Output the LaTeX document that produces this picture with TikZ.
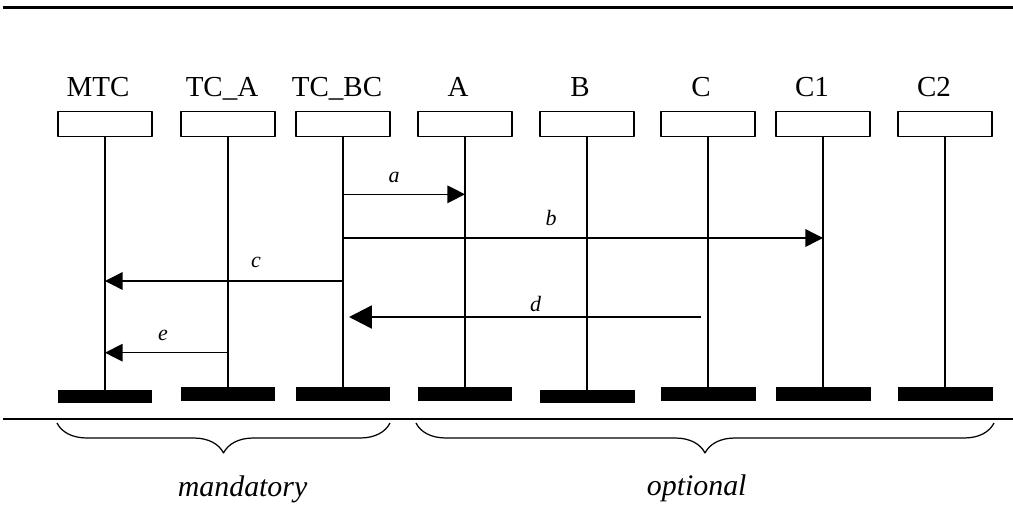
\documentclass[tikz,border=0pt]{standalone}
\usepackage{fontspec}
\setmainfont{Liberation Serif}
\usetikzlibrary{arrows.meta,decorations.pathreplacing}
\begin{document}
\begin{tikzpicture}[x=0.02cm, y=-0.02cm, line join=round, >={Triangle[length=10pt,width=10pt]},
  head/.style={draw, line width=0.75pt, minimum width=1.88cm, minimum height=0.5cm, inner sep=0},
  foot/.style={fill, minimum width=1.9cm, minimum height=0.27cm, inner sep=0},
  title/.style={font=\fontsize{16.5}{18}\selectfont, anchor=base, inner sep=0},
  msg/.style={line width=0.75pt, ->},
  tag/.style={font=\fontsize{12.5}{14}\selectfont\itshape, anchor=base, inner sep=0},
  group/.style={font=\fontsize{17}{19}\selectfont\itshape, anchor=base, inner sep=0}]
\useasboundingbox (0,0) rectangle (1013,504);
\draw[line width=1.3pt] (3,7.6)--(1013,7.6) (3,418.7)--(1013,418.7);
\foreach \n/\x/\lx/\t/\fy in {mtc/105/98/MTC/396.7, tca/228/222/TC\_A/394, tcbc/343/337/TC\_BC/394,
  a/465/458/A/394, b/587/580/B/396.7, c/708/701/C/394, c1/823/812/C1/394, c2/945/934/C2/394}{
  \node[head] (\n) at (\x,123.7) {};
  \node[title] (\n-title) at (\lx,96.5) {\t};
  \node[foot] (\n-end) at (\x,\fy) {};
  \draw[line width=0.75pt] (\n.south)--(\n-end.north);
}
\path (0,194.3) coordinate (ya) (0,238) coordinate (yb) (0,281) coordinate (yc)
  (0,317) coordinate (yd) (0,352.7) coordinate (ye);
\draw[msg] (tcbc |- ya)--(a |- ya);
\draw[msg] (tcbc |- yb)--(c1 |- yb);
\draw[msg] (tcbc |- yc)--(mtc |- yc);
\draw[msg, line width=1.4pt, >={Triangle[length=13pt,width=13pt]}, shorten <=0.14cm, shorten >=0.12cm] (c |- yd)--(tcbc |- yd);
\draw[msg] (tca |- ye)--(mtc |- ye);
\node[tag] (ta) at (394,182) {a};
\node[tag] (tb) at (551,225) {b};
\node[tag] (tc) at (256,267.7) {c};
\node[tag] (td) at (535.7,311.7) {d};
\node[tag] (te) at (163,340) {e};
\draw[line width=0.7pt, decorate, decoration={brace, amplitude=0.6cm}] (390,423)--(57,423);
\draw[line width=0.7pt, decorate, decoration={brace, amplitude=0.6cm}] (994,423)--(416,423);
\node[group] (mandatory) at (242.6,496) {mandatory};
\node[group] (optional) at (696.7,495) {optional};
\end{tikzpicture}
\end{document}
